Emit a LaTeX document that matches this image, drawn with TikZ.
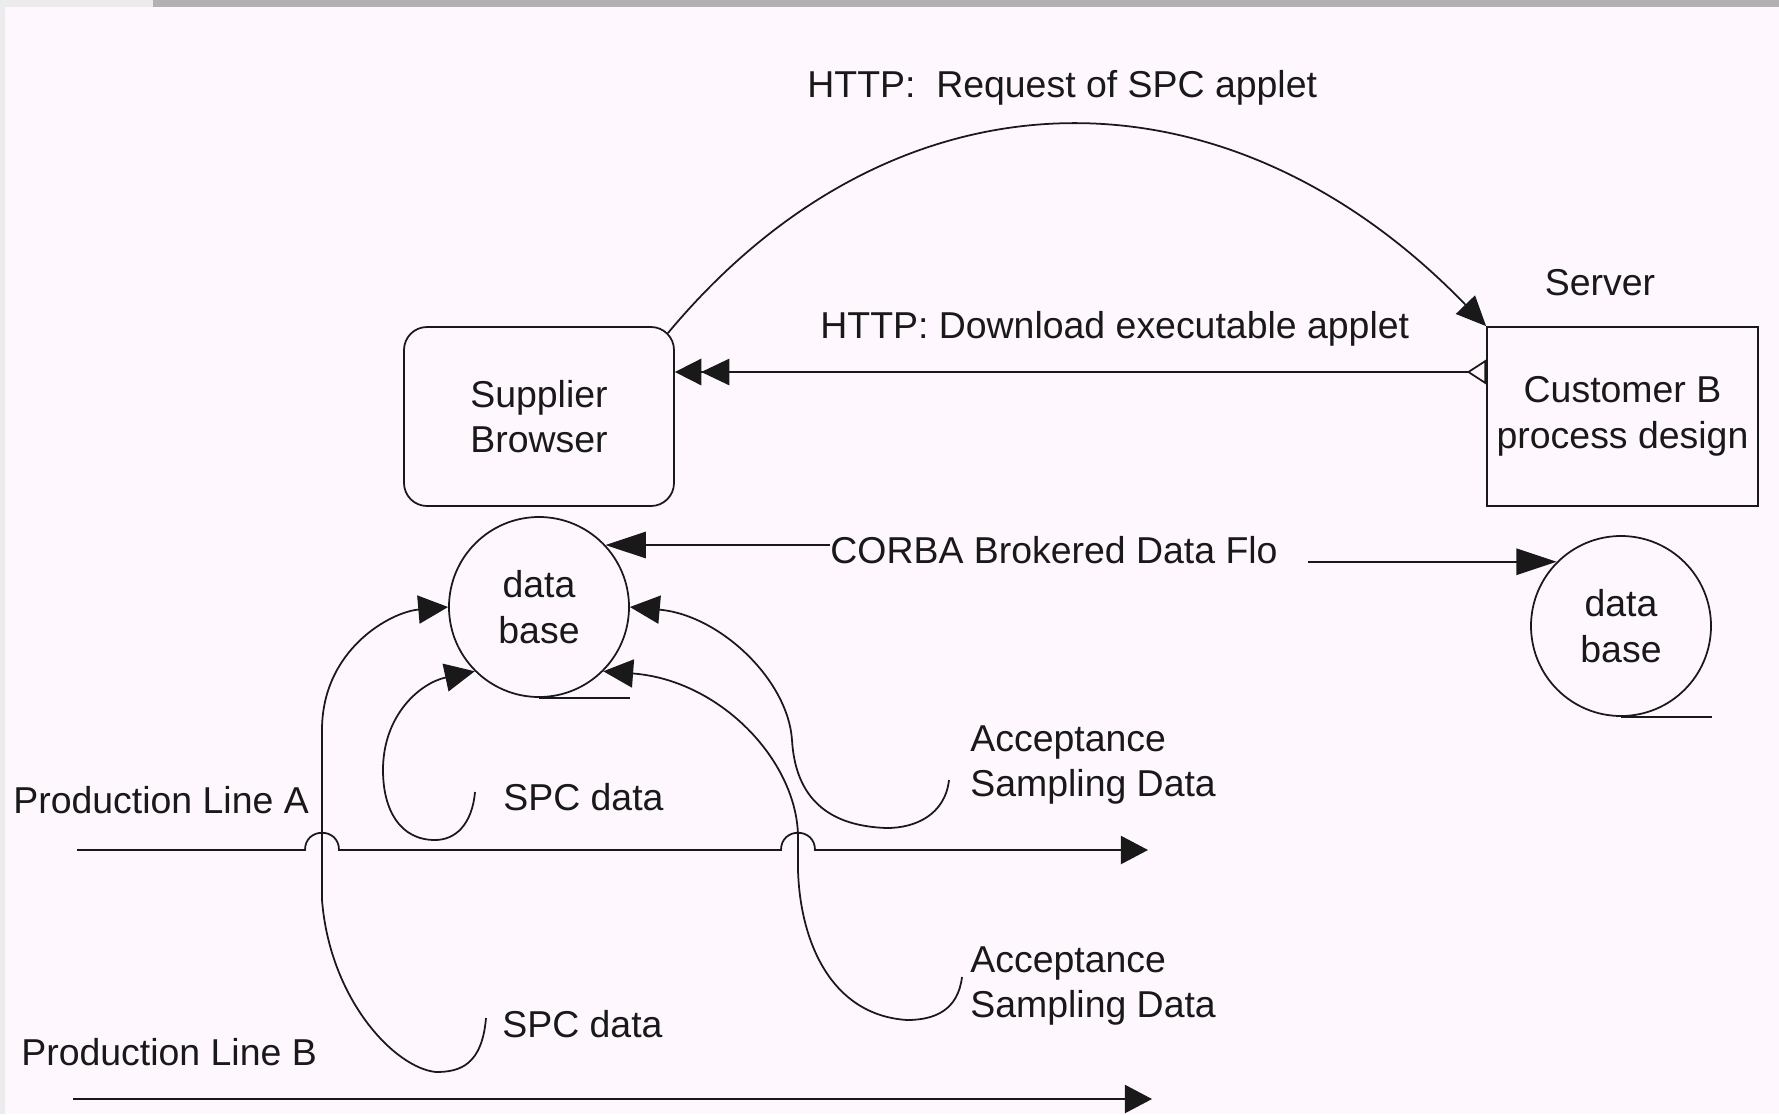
\documentclass[tikz,border=0pt]{standalone}
\usepackage{fontspec}
\setmainfont{Liberation Sans}
\usetikzlibrary{arrows.meta,calc}
\definecolor{paper}{RGB}{254,248,254}
\definecolor{barg}{RGB}{178,178,178}
\definecolor{edgeg}{RGB}{236,236,236}
\definecolor{ink}{RGB}{25,25,25}
\begin{document}
\begin{tikzpicture}[x=0.2mm,y=-0.2mm,
  every node/.style={font=\fontsize{21.3pt}{25.9pt}\selectfont, inner sep=0pt, text=ink},
  flow/.style={draw=ink, line width=1pt},
  boxnode/.style={draw=ink, line width=1pt, minimum width=54mm, minimum height=35.8mm, align=center},
  dbnode/.style={circle, draw=ink, line width=1pt, minimum size=36mm, align=center},
  tipin/.style={-{Triangle[length=17pt,width=16pt]}},
  tipcorba/.style={-{Triangle[length=23pt,width=15pt]}},
  tipline/.style={-{Triangle[length=15.4pt,width=16pt]}}
]
% page background
\fill[paper] (0,0) rectangle (1779,1114);
\fill[barg] (153,0) rectangle (1779,7);
\fill[edgeg] (0,0) rectangle (153,7);
\fill[edgeg] (0,0) rectangle (5,1114);
\useasboundingbox (0,0) rectangle (1779,1114);

% browser, server and data stores
\node[boxnode, rounded corners=4.6mm] (sb) at (539,416.5) {Supplier\\Browser};
\node[boxnode, minimum width=54.2mm] (cb) at (1622.5,416.5) {Customer B\\process design};
\node[anchor=base] (srv) at (1600,295) {Server};
\node[dbnode] (db1) at (539,607) {data\\base};
\node[dbnode] (db2) at (1621,626) {data\\base};
\draw[flow] (db1.south) -- (db1.south -| db1.east);
\draw[flow] (db2.south) -- (db2.south -| db2.east);

% labels
\node[anchor=base west] (treq) at (807,97) {HTTP:\ \ Request of SPC applet};
\node[anchor=base west] (tdl) at (820,338) {HTTP: Download executable applet};
\node[anchor=base west] (tcorba) at (830,563) {CORBA Brokered Data Flo};
\node[anchor=base west] (pla) at (13,813) {Production Line A};
\node[anchor=base west] (plb) at (21,1065) {Production Line B};
\node[anchor=base west] (spca) at (503,810) {SPC data};
\node[anchor=base west] (spcb) at (502,1037) {SPC data};
\node[anchor=west, align=left] (asa) at (970,765) {Acceptance\\Sampling Data};
\node[anchor=west, align=left] (asb) at (970,986) {Acceptance\\Sampling Data};

% HTTP request and download
\draw[flow, -{Triangle[length=17pt,width=15pt]}]
  ($(sb.north east)+(-7,7)$) .. controls (897,58) and (1227,58) .. (cb.north west);
\draw[flow, {Triangle[open,reversed,length=11pt,width=14pt]}-{Triangle[length=16pt,width=15pt,sep=0pt]Triangle[length=15pt,width=15pt]}]
  ($(cb.west)+(0,-44.5)$) -- ($(sb.east)+(0,-44.5)$);

% CORBA data flow between the stores
\coordinate (ce) at ($(tcorba.east)+(30,0)$);
\draw[flow, tipcorba] (tcorba.west |- db1.43) -- (db1.43);
\draw[flow, tipcorba] (ce |- db2.135) -- (db2.135);

% production lines with line hops
\coordinate (la0) at (77,850);
\coordinate (la1) at (1148,850);
\coordinate (lb0) at (73,1099);
\coordinate (lb1) at (1152,1099);
\draw[flow, tipline] (la0) -- (305,850) .. controls (305,827) and (339,827) .. (339,850)
  -- (781,850) .. controls (781,827) and (815,827) .. (815,850) -- (la1);
\draw[flow, tipline] (lb0) -- (lb1);

% data flows into the supplier store
\coordinate (hb) at (486,1018);
\coordinate (ha) at (475,792);
\coordinate (hc) at (949,780);
\coordinate (hd) at (962,977);
\draw[flow, tipin] (hb) .. controls (482,1065) and (460,1072) .. (436,1072)
  .. controls (395,1068) and (330,1000) .. (322,900) -- (322,730)
  .. controls (322,650) and (390,612) .. (db1.180);
\draw[flow, tipin] (ha) .. controls (472,825) and (455,840) .. (435,840)
  .. controls (400,840) and (383,810) .. (383,770)
  .. controls (383,715) and (420,683) .. (db1.225);
\draw[flow, tipin] (hc) .. controls (945,815) and (915,828) .. (887,828)
  .. controls (820,826) and (795,790) .. (792,740)
  .. controls (788,680) and (720,615) .. (db1.0);
\draw[flow, tipin] (hd) .. controls (958,1010) and (935,1020) .. (907,1020)
  .. controls (830,1015) and (800,940) .. (798,870) -- (798,835)
  .. controls (796,760) and (720,680) .. (db1.315);
\end{tikzpicture}
\end{document}
